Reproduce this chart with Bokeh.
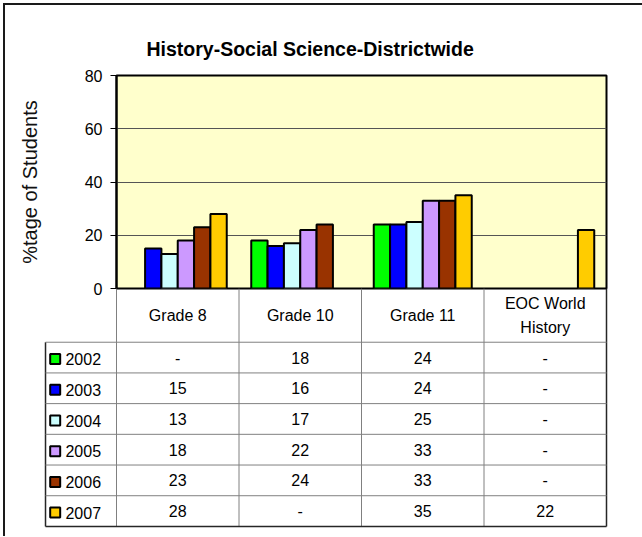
from bokeh.plotting import figure
from bokeh.models import Range1d, FixedTicker, ColumnDataSource
from bokeh.layouts import column
from bokeh.embed import file_html
from bokeh.resources import INLINE
from bokeh.core.properties import value

# ---------------- data ----------------
title = "History-Social Science-Districtwide"
y_label = "%tage of Students"
categories = ["Grade 8", "Grade 10", "Grade 11", "EOC World History"]
header_labels = ["Grade 8", "Grade 10", "Grade 11", "EOC World\nHistory"]
years = ["2002", "2003", "2004", "2005", "2006", "2007"]
v2002 = [None, 18, 24, None]
v2003 = [15, 16, 24, None]
v2004 = [13, 17, 25, None]
v2005 = [18, 22, 33, None]
v2006 = [23, 24, 33, None]
v2007 = [28, None, 35, 22]
colors = ["#00FF00", "#0000FF", "#CCFFFF", "#CC99FF", "#993300", "#FFCC00"]
y_ticks = [0, 20, 40, 60, 80]
series = [v2002, v2003, v2004, v2005, v2006, v2007]

FONT = "Liberation Sans"
ncat = len(categories)
nrows = len(years)
W = 637

# ---------------- chart ----------------
p1 = figure(width=W, height=295, title=title,
            x_range=Range1d(0, ncat), y_range=Range1d(0, 80),
            x_axis_location=None,
            output_backend="svg", toolbar_location=None,
            min_border_left=111, min_border_right=W - 601,
            min_border_top=70, min_border_bottom=12,
            background_fill_color="#FFFFCC",
            border_fill_color="white",
            outline_line_color="black", outline_line_width=2)
p1.frame_align = False

p1.title.align = "left"
p1.title.offset = 30
p1.title.standoff = 32
p1.title.text_font = FONT
p1.title.text_font_size = "19.5px"
p1.title.text_font_style = "bold"
p1.title.text_color = "black"

bw = 0.8 / nrows
for k, (yr, vals, col) in enumerate(zip(years, series, colors)):
    off = (k - (nrows - 1) / 2) * bw
    src = ColumnDataSource(dict(x=[i + 0.5 + off for i in range(ncat)],
                                val=[float("nan") if v is None else v for v in vals]))
    p1.vbar(x="x", top="val", width=bw, source=src,
            fill_color=col, line_color="black", line_width=2)

ax = p1.yaxis[0]
ax.ticker = FixedTicker(ticks=y_ticks)
ax.axis_label = y_label
ax.axis_label_text_font = FONT
ax.axis_label_text_font_size = "20px"
ax.axis_label_text_font_style = "normal"
ax.axis_label_text_color = "#111111"
ax.axis_label_standoff = 41
ax.major_label_text_font = FONT
ax.major_label_text_font_size = "16px"
ax.major_label_text_color = "black"
ax.major_label_standoff = 8
ax.major_tick_out = 6
ax.major_tick_in = 0
ax.minor_tick_out = 0
ax.minor_tick_in = 0
ax.major_tick_line_color = "black"
ax.axis_line_color = "black"
ax.axis_line_width = 2

p1.ygrid.ticker = FixedTicker(ticks=[20, 40, 60])
p1.ygrid.grid_line_color = "#555555"
p1.ygrid.grid_line_width = 1
p1.xgrid.visible = False

# ---------------- data table (overlaps the chart's bottom border) ----------------
left_x = -0.5796
header_h = 1.75
bottom = -(header_h + nrows)

p2 = figure(width=W, height=248,
            x_range=Range1d(left_x - 0.0164, ncat + 0.0163),
            y_range=Range1d(-7.8176, 0),
            x_axis_location=None, y_axis_location=None,
            output_backend="svg", toolbar_location=None,
            min_border_left=38, min_border_right=W - 603,
            min_border_top=0, min_border_bottom=8,
            outline_line_color=None,
            background_fill_alpha=0, border_fill_alpha=0,
            styles={"margin-top": "-12px"})
p2.frame_align = False
p2.grid.visible = False

inner = "#808080"
outer = "#262626"
vx = list(range(ncat))
p2.segment(x0=vx, y0=[0] * ncat, x1=vx, y1=[bottom] * ncat,
           line_color=inner, line_width=1)
p2.segment(x0=[ncat], y0=[0], x1=[ncat], y1=[bottom], line_color=outer, line_width=1.5)
p2.segment(x0=[left_x], y0=[-header_h], x1=[left_x], y1=[bottom], line_color=outer, line_width=1.5)
hy = [-header_h - k for k in range(nrows)]
p2.segment(x0=[left_x] * nrows, y0=hy, x1=[ncat] * nrows, y1=hy,
           line_color=inner, line_width=1)
p2.segment(x0=[left_x], y0=[bottom], x1=[ncat], y1=[bottom], line_color=outer, line_width=1.5)

p2.text(x=[i + 0.5 for i in range(ncat)], y=[-0.88] * ncat, text=header_labels,
        text_align="center", text_baseline="middle", text_font=value(FONT),
        text_font_size="16px", text_color="black", text_line_height=1.4)

tx, ty, tt = [], [], []
for r, vals in enumerate(series):
    for i, v in enumerate(vals):
        tx.append(i + 0.5)
        ty.append(-header_h - r - 0.5)
        tt.append("-" if v is None else str(v))
p2.text(x=tx, y=ty, text=tt, text_align="center", text_baseline="middle",
        text_font=value(FONT), text_font_size="16px", text_color="black")

ry = [-header_h - r - 0.55 for r in range(nrows)]
p2.scatter(x=[left_x + 0.079] * nrows, y=ry, marker="square", size=10,
           fill_color=colors, line_color="black", line_width=2)
p2.text(x=[left_x + 0.163] * nrows, y=ry, text=years, text_align="left",
        text_baseline="middle", text_font=value(FONT), text_font_size="16px",
        text_color="black")

layout = column(p1, p2, spacing=0,
                styles={"border-left": "2px solid #1a1a1a",
                        "border-top": "2px solid #1a1a1a",
                        "border-right": "0px none", "border-bottom": "0px none",
                        "margin-left": "3px", "margin-top": "3px"})

open("out.html", "w").write(file_html(layout, INLINE))
